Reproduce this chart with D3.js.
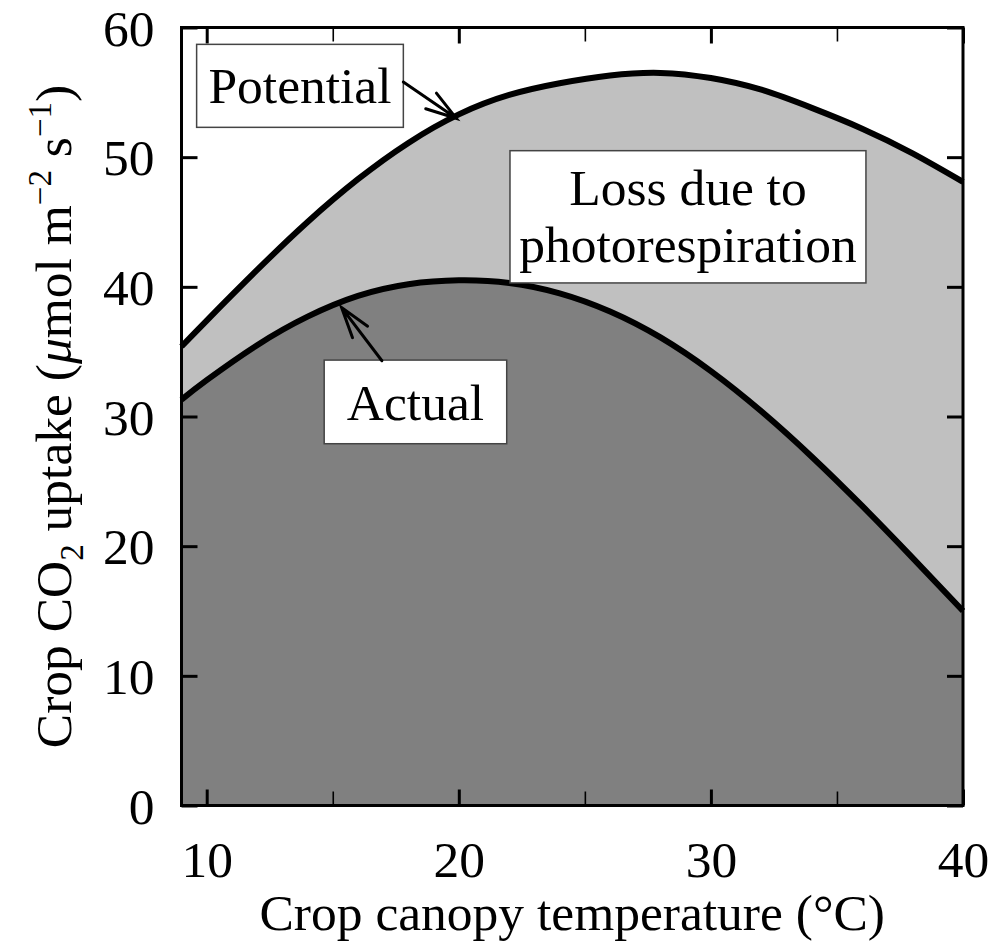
<!DOCTYPE html>
<html>
<head>
<meta charset="utf-8">
<script src="https://cdn.jsdelivr.net/npm/d3@7"></script>
<style>
    html, body { margin: 0; padding: 0; background: #fff; }
    svg { display: block; font-family: "Liberation Serif", "Times New Roman", serif; }
</style>
</head>
<body>
<svg id="chart" width="1002" height="946"></svg>
<script>
// Canopy temperature (°C) and crop CO2 uptake
const temps = [9, 10, 12, 14, 16, 18, 20, 22, 24, 26, 28, 30, 32, 34, 36, 38, 40];
const potential = [35.4, 37.4, 41.3, 45.0, 48.3, 51.1, 53.3, 54.8, 55.7, 56.3, 56.5, 56.1, 55.2, 53.8, 52.2, 50.3, 48.1];
const actual = [31.3, 32.8, 35.5, 37.7, 39.3, 40.2, 40.5, 40.3, 39.5, 38.1, 36.1, 33.5, 30.4, 26.9, 23.1, 19.1, 15.0];

const xMajorTicks = [10, 20, 30, 40];
const xMinorTicks = [15, 25, 35];
const yTicks = [0, 10, 20, 30, 40, 50, 60];

const svg = d3.select('#chart');
const FONT = 51.5;

const x = d3.scaleLinear().domain([9, 40]).range([181.5, 963]);
const y = d3.scaleLinear().domain([0, 60]).range([805.5, 27.5]);

const rows = temps.map((t, i) => ({ t, pot: potential[i], act: actual[i] }));

// Filled regions: actual uptake, then the loss between actual and potential
const curve = d3.curveNatural;

svg.append('path')
    .datum(rows)
    .attr('fill', '#808080')
    .attr('d', d3.area().curve(curve).x(d => x(d.t)).y0(y(0)).y1(d => y(d.act)));

svg.append('path')
    .datum(rows)
    .attr('fill', '#c0c0c0')
    .attr('d', d3.area().curve(curve).x(d => x(d.t)).y0(d => y(d.act)).y1(d => y(d.pot)));

['pot', 'act'].forEach(key => {
    svg.append('path')
        .datum(rows)
        .attr('fill', 'none')
        .attr('stroke', '#000')
        .attr('stroke-width', 6)
        .attr('d', d3.line().curve(curve).x(d => x(d.t)).y(d => y(d[key])));
});

// Axes: ticks point inward on all four sides
function styleAxis(g, width) {
    g.select('.domain').remove();
    g.selectAll('.tick line').attr('stroke', '#000').attr('stroke-width', width);
    g.selectAll('.tick text')
        .attr('fill', '#000')
        .style('font-size', FONT + 'px')
        .style('font-family', '"Liberation Serif", "Times New Roman", serif');
}

svg.append('g')
    .attr('transform', `translate(0,${y(0)})`)
    .call(d3.axisBottom(x).tickValues(xMajorTicks).tickSize(-16).tickPadding(35).tickFormat(d3.format('d')))
    .call(g => styleAxis(g, 3));

svg.append('g')
    .attr('transform', `translate(0,${y(0)})`)
    .call(d3.axisBottom(x).tickValues(xMinorTicks).tickSize(-14).tickFormat(''))
    .call(g => styleAxis(g, 1.6));

svg.append('g')
    .attr('transform', `translate(0,${y(60)})`)
    .call(d3.axisTop(x).tickValues(xMajorTicks).tickSize(-16).tickFormat(''))
    .call(g => styleAxis(g, 3));

svg.append('g')
    .attr('transform', `translate(0,${y(60)})`)
    .call(d3.axisTop(x).tickValues(xMinorTicks).tickSize(-14).tickFormat(''))
    .call(g => styleAxis(g, 1.6));

svg.append('g')
    .attr('transform', `translate(${x(9)},0)`)
    .call(d3.axisLeft(y).tickValues(yTicks).tickSize(-16).tickPadding(27).tickFormat(d3.format('d')))
    .call(g => styleAxis(g, 3))
    .call(g => g.selectAll('.tick text').attr('dy', '0.34em'));

svg.append('g')
    .attr('transform', `translate(${x(40)},0)`)
    .call(d3.axisRight(y).tickValues(yTicks).tickSize(-16).tickFormat(''))
    .call(g => styleAxis(g, 3));

// Plot frame
svg.append('rect')
    .attr('x', x(9))
    .attr('y', y(60))
    .attr('width', x(40) - x(9))
    .attr('height', y(0) - y(60))
    .attr('fill', 'none')
    .attr('stroke', '#000')
    .attr('stroke-width', 3);

// Axis titles
svg.append('text')
    .attr('x', (x(9) + x(40)) / 2)
    .attr('y', 930)
    .attr('text-anchor', 'middle')
    .style('font-size', FONT + 'px')
    .text('Crop canopy temperature (°C)');

const yTitle = svg.append('text')
    .attr('transform', `translate(71,${(y(0) + y(60)) / 2}) rotate(-90)`)
    .attr('text-anchor', 'middle')
    .style('font-size', FONT + 'px');

yTitle.append('tspan').text('Crop CO');
yTitle.append('tspan').attr('dy', 12).style('font-size', '33px').text('2');
yTitle.append('tspan').attr('dy', -12).text(' uptake (');
yTitle.append('tspan').style('font-style', 'italic').text('\u03bc');
yTitle.append('tspan').text('mol m');
yTitle.append('tspan').attr('dy', -20).style('font-size', '33px').text('\u22122');
yTitle.append('tspan').attr('dy', 20).text(' s');
yTitle.append('tspan').attr('dy', -20).style('font-size', '33px').text('\u22121');
yTitle.append('tspan').attr('dy', 20).text(')');

// Annotation boxes (positions in data units)
function labelBox(x0, x1, y0, y1, lines, baselines) {
    svg.append('rect')
        .attr('x', x(x0))
        .attr('y', y(y1))
        .attr('width', x(x1) - x(x0))
        .attr('height', y(y0) - y(y1))
        .attr('fill', '#fff')
        .attr('stroke', '#444')
        .attr('stroke-width', 1.5);

    lines.forEach((line, i) => {
        svg.append('text')
            .attr('x', (x(x0) + x(x1)) / 2)
            .attr('y', y(baselines[i]))
            .attr('text-anchor', 'middle')
            .style('font-size', FONT + 'px')
            .text(line);
    });
}

function arrow(t0, v0, t1, v1) {
    const ax = x(t0), ay = y(v0), bx = x(t1), by = y(v1);
    const ang = Math.atan2(by - ay, bx - ax);
    const len = 32, spread = 0.3;
    const wings = [ang + Math.PI - spread, ang + Math.PI + spread].map(a => [bx + len * Math.cos(a), by + len * Math.sin(a)]);

    svg.append('path')
        .attr('fill', 'none')
        .attr('stroke', '#000')
        .attr('stroke-width', 3)
        .attr('stroke-linecap', 'round')
        .attr('d', `M${ax},${ay}L${bx},${by}M${wings[0][0]},${wings[0][1]}L${bx},${by}L${wings[1][0]},${wings[1][1]}`);
}

labelBox(9.6, 17.8, 52.3, 58.7, ['Potential'], [54.2]);
arrow(17.8, 55.8, 19.9, 53.0);

labelBox(14.66, 21.9, 27.9, 34.35, ['Actual'], [29.7]);
arrow(16.95, 34.3, 15.35, 38.4);

labelBox(22.03, 36.15, 40.3, 50.5, ['Loss due to', 'photorespiration'], [46.3, 41.9]);
</script>
</body>
</html>
